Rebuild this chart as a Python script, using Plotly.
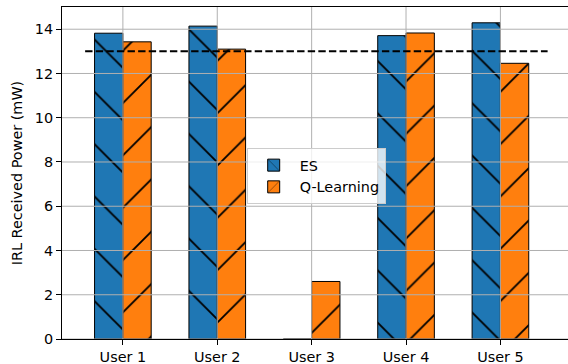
import plotly.graph_objects as go

# Received power per user for each method (mW)
users = ["User 1", "User 2", "User 3", "User 4", "User 5"]
es_power = [13.82, 14.14, 0.0, 13.71, 14.29]
ql_power = [13.43, 13.10, 2.60, 13.83, 12.46]

# Required power level and the x-span of its reference line (category units)
threshold = 13.0
threshold_span = [-0.4, 4.5]

y_ticks = [0, 2, 4, 6, 8, 10, 12, 14]

FONT = "DejaVu Sans"
BLUE = "#1f77b4"
ORANGE = "#ff7f0e"
GRID = "#b0b0b0"

fig = go.Figure()

fig.add_trace(go.Bar(
    name="ES", x=users, y=es_power,
    marker=dict(color=BLUE, line=dict(color="black", width=1),
                pattern=dict(shape="\\", fgcolor="black", fgopacity=1,
                             size=37, solidity=0.05)),
))
fig.add_trace(go.Bar(
    name="Q-Learning", x=users, y=ql_power,
    marker=dict(color=ORANGE, line=dict(color="black", width=1),
                pattern=dict(shape="/", fgcolor="black", fgopacity=1,
                             size=37, solidity=0.05)),
))

y_max = max(max(es_power), max(ql_power)) * 1.05

# grid drawn over the bars
shapes = []
for u in users:
    shapes.append(dict(type="line", xref="x", yref="paper", x0=u, x1=u, y0=0, y1=1,
                       line=dict(color=GRID, width=1), layer="above"))
for t in y_ticks:
    shapes.append(dict(type="line", xref="paper", yref="y", x0=0, x1=1, y0=t, y1=t,
                       line=dict(color=GRID, width=1), layer="above"))
# threshold line
shapes.append(dict(type="line", xref="x", yref="y",
                   x0=threshold_span[0], x1=threshold_span[1], y0=threshold, y1=threshold,
                   line=dict(color="black", width=2, dash="7.4px,3.2px"), layer="above"))

fig.update_layout(
    width=568, height=364,
    margin=dict(l=61.5, r=0, t=7.3, b=25.3, pad=0),
    paper_bgcolor="white", plot_bgcolor="white",
    font=dict(family=FONT, size=14.4, color="black"),
    barmode="group", bargap=0.4, bargroupgap=0,
    shapes=shapes,
    showlegend=True,
    legend=dict(x=0.365, y=0.5745, xanchor="left", yanchor="top",
                bgcolor="rgba(255,255,255,0.8)", bordercolor="#cccccc", borderwidth=1,
                font=dict(family=FONT, size=14.4, color="black"),
                itemwidth=42, tracegroupgap=0),
    xaxis=dict(
        type="category", range=[-0.645, 4.716],
        showgrid=False, zeroline=False,
        showline=True, linecolor="black", linewidth=1, mirror=True,
        ticks="outside", ticklen=5, tickwidth=1, tickcolor="black",
        tickfont=dict(family=FONT, size=14.4, color="black"),
    ),
    yaxis=dict(
        range=[0, y_max], tickvals=y_ticks,
        showgrid=False, zeroline=False,
        showline=True, linecolor="black", linewidth=1, mirror=False,
        ticks="outside", ticklen=5, tickwidth=1, tickcolor="black",
        tickfont=dict(family=FONT, size=14.4, color="black"),
        title=dict(text="IRL Received Power (mW)", standoff=8,
                   font=dict(family=FONT, size=14.4, color="black")),
    ),
)

fig.write_html("out.html")
